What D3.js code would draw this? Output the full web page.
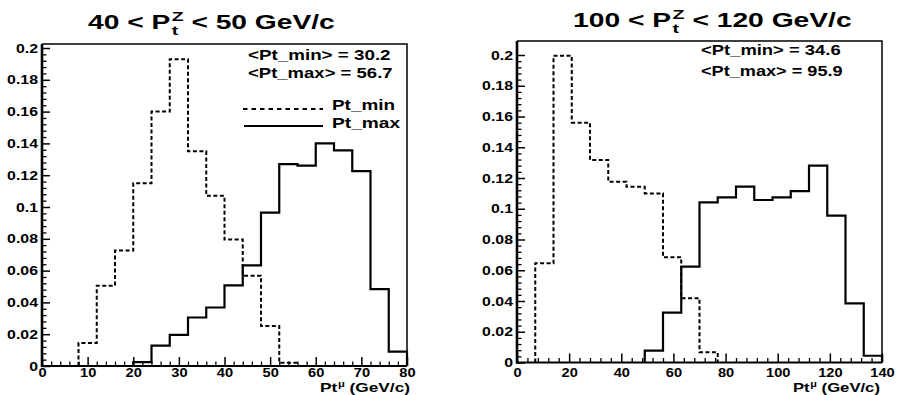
<!DOCTYPE html>
<html><head><meta charset="utf-8">
<script src="https://cdn.jsdelivr.net/npm/d3@7"></script>
<style>
body{margin:0;background:#fff}
text{font-family:"Liberation Sans",Arial,Helvetica,sans-serif;font-weight:bold;fill:#000}
</style>
</head><body>
<svg id="c" width="905" height="395"></svg>
<script>
// ---------- data ----------
const leftEdges  = [0,4,8,12,16,20,24,28,32,36,40,44,48,52,56,60,64,68,72,76,80];
const leftPtMin  = [0,0,0.0145,0.0505,0.0726,0.115,0.160,0.193,0.135,0.107,0.0795,0.0568,0.0252,0.002,0,0,0,0,0,0];
const leftPtMax  = [0,0,0,0,0,0.0025,0.0128,0.0196,0.0305,0.0368,0.0507,0.0633,0.0965,0.127,0.126,0.140,0.1356,0.1226,0.0484,0.009];
const rightEdges = [0,7,14,21,28,35,42,49,56,63,70,77,84,91,98,105,112,119,126,133,140];
const rightPtMin = [0,0.0645,0.1995,0.156,0.1317,0.1176,0.1143,0.110,0.0684,0.0418,0.0066,0,0,0,0,0,0,0,0,0];
const rightPtMax = [0,0,0,0,0,0,0,0.0077,0.0324,0.0623,0.1042,0.1074,0.1144,0.1057,0.1074,0.1115,0.128,0.0955,0.0385,0.0044];
const leftXTicks  = [0,10,20,30,40,50,60,70,80];
const rightXTicks = [0,20,40,60,80,100,120,140];
const yTicks      = [0,0.02,0.04,0.06,0.08,0.1,0.12,0.14,0.16,0.18,0.2];
const yTickLabels = ["0","0.02","0.04","0.06","0.08","0.1","0.12","0.14","0.16","0.18","0.2"];
const titleLo = ["40","100"];
const titleHi = ["50","120"];
const meanMin = ["30.2","34.6"];
const meanMax = ["56.7","95.9"];
const seriesNames = ["Pt_min","Pt_max"];

// ---------- layout ----------
const svg = d3.select("#c");
const panels = [
  {edges:leftEdges, vMin:leftPtMin, vMax:leftPtMax, xDom:[0,80], xr:[42,407], y0:366, y2:48, top:44,
   xTicks:leftXTicks, xMinor:2, xPad:2.5, title:[88,335,29], ann:[248,391,60,78], legend:true, xTitle:[320,410,392]},
  {edges:rightEdges, vMin:rightPtMin, vMax:rightPtMax, xDom:[0,140], xr:[517,882], y0:362.5, y2:55, top:41,
   xTicks:rightXTicks, xMinor:4, xPad:5.5, title:[573,852,27], ann:[701,841,55,76], legend:false, xTitle:[793,880,392]}
];
const kTick = 1.22;

function fit(g, x0, x1){
  const bb = g.node().getBBox();
  const k = (x1 - x0) / bb.width;
  g.attr("transform", `translate(${x0 - bb.x*k},0) scale(${k},1)`);
}

function stepPts(edges, vals){
  let f = vals.findIndex(v => v > 0);
  let l = vals.length - 1; while (l >= 0 && !(vals[l] > 0)) l--;
  const pts = [[edges[f], 0]];
  for (let i = f; i <= l; i++){ pts.push([edges[i], vals[i]], [edges[i+1], vals[i]]); }
  pts.push([edges[l+1], 0]);
  return pts;
}

panels.forEach((p, pi) => {
  const x = d3.scaleLinear().domain(p.xDom).range(p.xr);
  const y = d3.scaleLinear().domain([0, 0.2]).range([p.y0, p.y2]);
  const g = svg.append("g");

  // frame: top + right thin
  g.append("path").attr("d", `M${p.xr[0]},${p.top}H${p.xr[1]}V${p.y0}`)
    .attr("fill","none").attr("stroke","#000").attr("stroke-width",1.5);

  // histograms
  const line = d3.line().x(d => x(d[0])).y(d => y(d[1]));
  g.append("path").attr("d", line(stepPts(p.edges, p.vMin)))
    .attr("fill","none").attr("stroke","#000").attr("stroke-width",2).attr("stroke-dasharray","4,2.5");
  g.append("path").attr("d", line(stepPts(p.edges, p.vMax)))
    .attr("fill","none").attr("stroke","#000").attr("stroke-width",2.2);

  // y axis
  const yMinor = d3.range(0, 0.2001, 0.004).filter(v => !yTicks.some(t => Math.abs(t - v) < 1e-6));
  g.append("g").attr("transform", `translate(${p.xr[0]},0)`)
    .call(d3.axisLeft(y).tickValues(yMinor).tickSize(-4.5).tickSizeOuter(0).tickFormat(""))
    .call(a => a.select(".domain").remove())
    .call(a => a.selectAll("line").attr("stroke-width",1.3));
  const ya = g.append("g").attr("transform", `translate(${p.xr[0]},0)`)
    .call(d3.axisLeft(y).tickValues(yTicks).tickSize(-8).tickSizeOuter(0).tickPadding(4)
      .tickFormat((d,i) => yTickLabels[i]));
  ya.select(".domain").remove();
  ya.selectAll("line").attr("stroke-width",1.5);
  ya.selectAll("text").attr("font-size",13).attr("font-family",null).attr("x", -4/kTick)
    .attr("transform", `scale(${kTick},1)`);
  g.append("line").attr("x1",p.xr[0]).attr("x2",p.xr[0]).attr("y1",p.top).attr("y2",p.y0+1)
    .attr("stroke","#000").attr("stroke-width",2.6);

  // x axis
  const xMinor = d3.range(p.xDom[0], p.xDom[1] + 0.001, p.xMinor).filter(v => !p.xTicks.includes(v));
  g.append("g").attr("transform", `translate(0,${p.y0})`)
    .call(d3.axisBottom(x).tickValues(xMinor).tickSize(-4.5).tickSizeOuter(0).tickFormat(""))
    .call(a => a.select(".domain").remove())
    .call(a => a.selectAll("line").attr("stroke-width",1.3));
  const xa = g.append("g").attr("transform", `translate(0,${p.y0})`)
    .call(d3.axisBottom(x).tickValues(p.xTicks).tickSize(-9).tickSizeOuter(0).tickPadding(p.xPad));
  xa.select(".domain").remove();
  xa.selectAll("line").attr("stroke-width",1.5);
  xa.selectAll("text").attr("font-size",12).attr("font-family",null).attr("transform", `scale(${kTick},1)`);
  g.append("line").attr("x1",p.xr[0]-1).attr("x2",p.xr[1]).attr("y1",p.y0).attr("y2",p.y0)
    .attr("stroke","#000").attr("stroke-width",2.2);

  // title
  const tg = svg.append("g");
  const base = p.title[2];
  const t1 = tg.append("text").attr("x",0).attr("y",base).attr("font-size",19.5).text(`${titleLo[pi]} < P`);
  const w1 = t1.node().getComputedTextLength() + 1;
  const sp = tg.append("text").attr("x",w1).attr("y",base-8).attr("font-size",13.5).text("Z");
  const sb = tg.append("text").attr("x",w1).attr("y",base+6.5).attr("font-size",13.5).text("t");
  const ws = Math.max(sp.node().getComputedTextLength(), sb.node().getComputedTextLength());
  tg.append("text").attr("x",w1+ws).attr("y",base).attr("font-size",19.5).style("white-space","pre")
    .text(` < ${titleHi[pi]} GeV/c`);
  fit(tg, p.title[0], p.title[1]);

  // means
  const a1 = svg.append("g");
  a1.append("text").attr("y",p.ann[2]).attr("font-size",14).text(`<Pt_min> = ${meanMin[pi]}`);
  fit(a1, p.ann[0], p.ann[1]);
  const a2 = svg.append("g");
  a2.append("text").attr("y",p.ann[3]).attr("font-size",14).text(`<Pt_max> = ${meanMax[pi]}`);
  fit(a2, p.ann[0], p.ann[1] + 2);

  // legend
  if (p.legend){
    svg.append("line").attr("x1",243).attr("x2",323).attr("y1",109).attr("y2",109)
      .attr("stroke","#000").attr("stroke-width",2).attr("stroke-dasharray","4.5,4");
    svg.append("line").attr("x1",244).attr("x2",323).attr("y1",126).attr("y2",126)
      .attr("stroke","#000").attr("stroke-width",2.2);
    const l1 = svg.append("g");
    l1.append("text").attr("y",110.5).attr("font-size",15).text(seriesNames[0]);
    fit(l1, 332, 395);
    const l2 = svg.append("g");
    l2.append("text").attr("y",128.5).attr("font-size",15).text(seriesNames[1]);
    fit(l2, 332, 401);
  }

  // x axis title
  const xg = svg.append("g");
  const xb = p.xTitle[2];
  const x1t = xg.append("text").attr("x",0).attr("y",xb).attr("font-size",13).text("Pt");
  const xw = x1t.node().getComputedTextLength() + 0.5;
  const mu = xg.append("text").attr("x",xw).attr("y",xb-5).attr("font-size",8.5).text("\u03bc");
  xg.append("text").attr("x",xw + mu.node().getComputedTextLength()).attr("y",xb).attr("font-size",13)
    .style("white-space","pre").text(" (GeV/c)");
  fit(xg, p.xTitle[0], p.xTitle[1]);
});
</script>
</body></html>
